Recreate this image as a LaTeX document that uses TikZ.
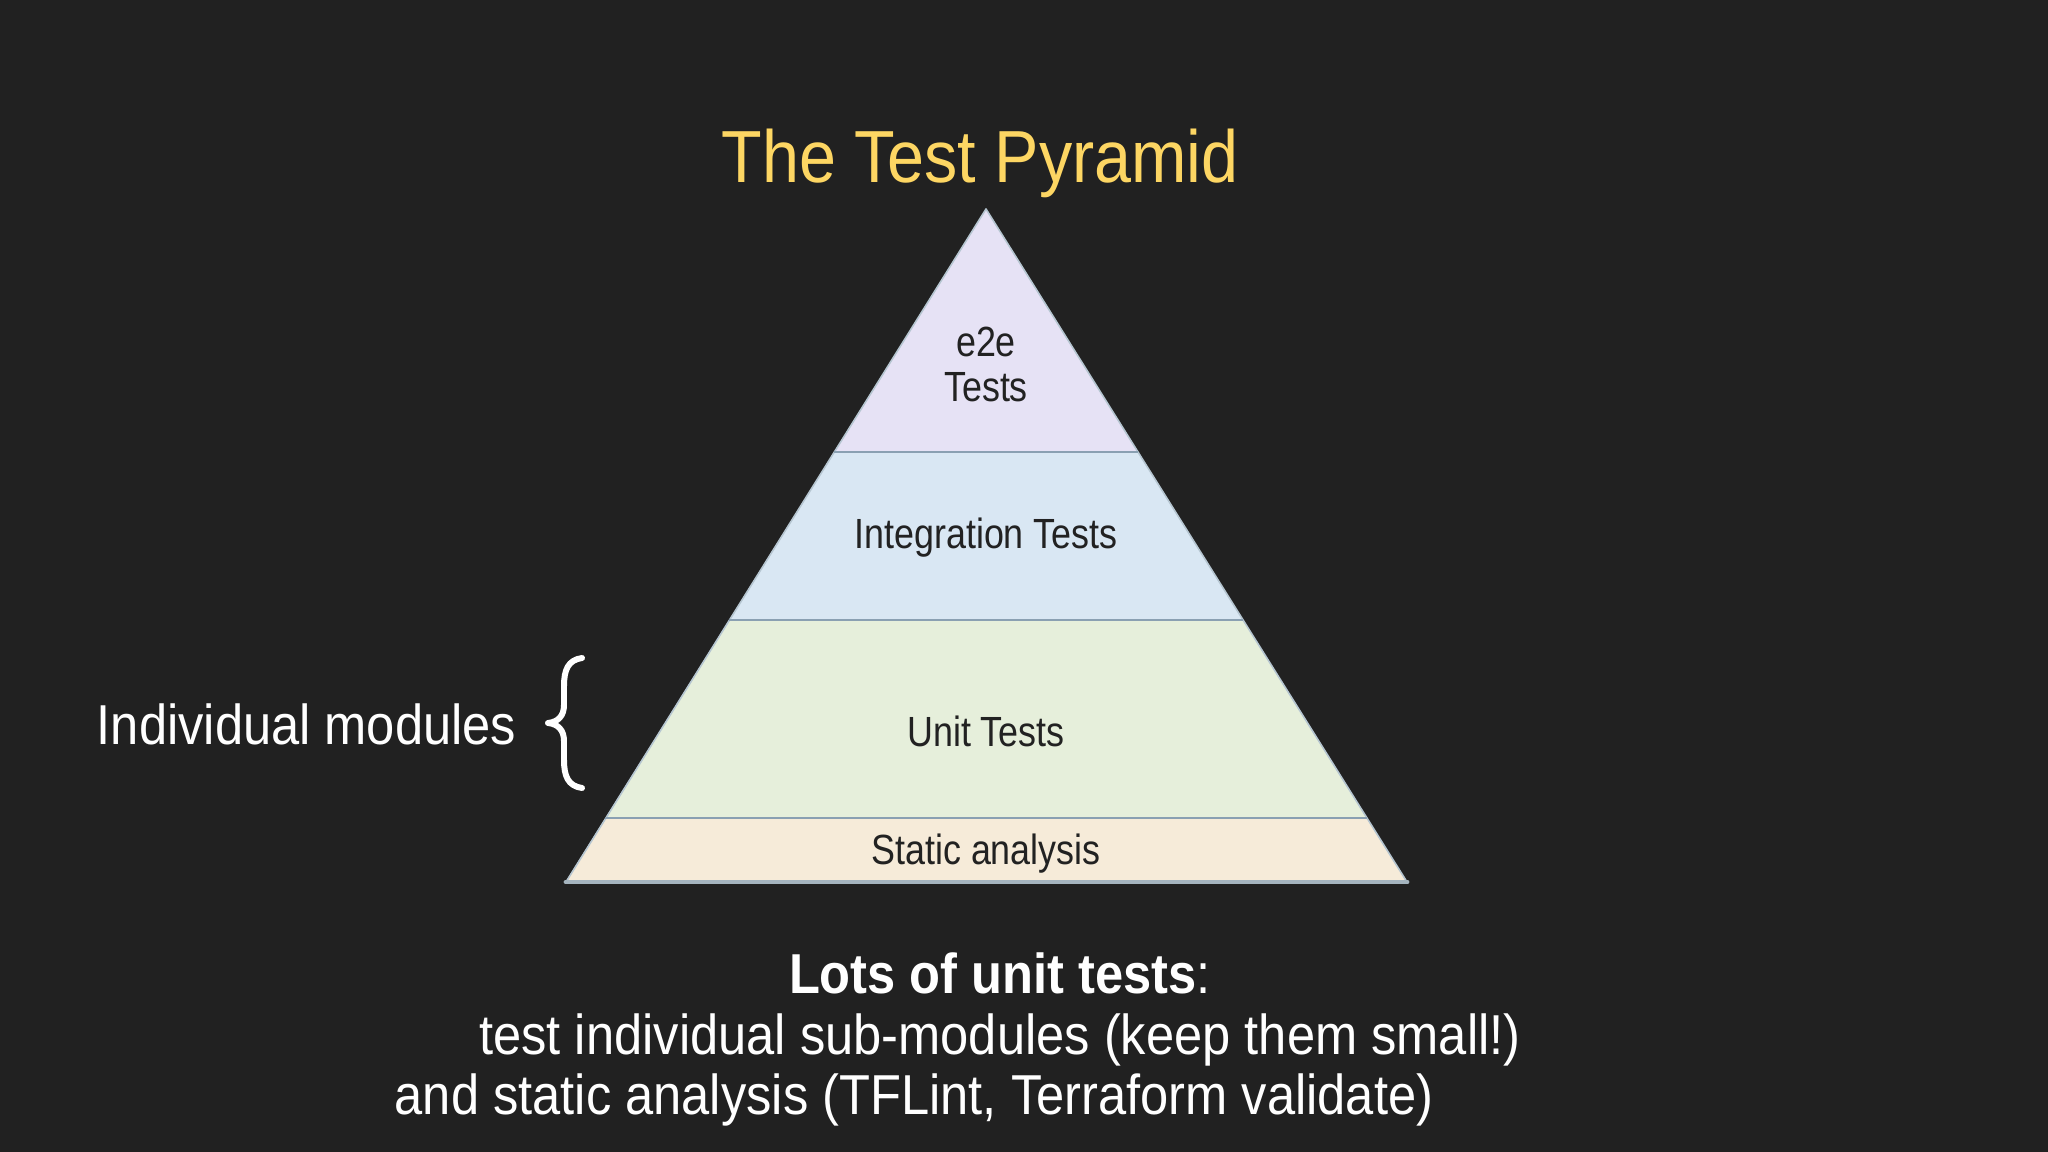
\documentclass[tikz,border=0pt]{standalone}
\usepackage{fontspec}
\setmainfont{Liberation Sans}[FakeStretch=0.9]
\newfontfamily\pyrfont{Liberation Sans}[FakeStretch=0.85]
\usepackage{xcolor}
\usetikzlibrary{positioning,calc}
\definecolor{slidebg}{HTML}{212121}
\definecolor{titleyellow}{HTML}{FDD663}
\definecolor{layerE}{HTML}{E6E2F5}
\definecolor{layerI}{HTML}{D9E7F3}
\definecolor{layerU}{HTML}{E6EFDB}
\definecolor{layerS}{HTML}{F6EBD9}
\definecolor{divline}{HTML}{8AA0B2}
\definecolor{edgeline}{HTML}{B5C5D0}
\definecolor{baseedge}{HTML}{A5B4BE}
\definecolor{pyrtext}{HTML}{222222}

\begin{document}
\begin{tikzpicture}[x=0.01cm,y=-0.01cm,
    lbl/.style={font={\pyrfont\fontsize{12pt}{14pt}\selectfont},text=pyrtext,anchor=base,inner sep=0pt},
    slidetext/.style={font={\fontsize{16pt}{19pt}\selectfont},text=white,anchor=base,inner sep=0pt},
    divider/.style={divline,line width=0.6pt}]
  % 배경
  \fill[slidebg] (0,0) rectangle (2048,1152);
  \useasboundingbox (0,0) rectangle (2048,1152);
  % 제목
  \node[slidetext,text=titleyellow,font={\fontsize{21pt}{25pt}\selectfont}] (title) at (980,183) {The Test Pyramid};
  % 피라미드 층
  \foreach \ya/\yb/\c in {209/452/layerE,452/620/layerI,620/818/layerU,818/882/layerS}
    \fill[\c] ({986-0.625*(\ya-209)},\ya) -- ({986+0.625*(\ya-209)},\ya) -- ({986+0.625*(\yb-209)},\yb) -- ({986-0.625*(\yb-209)},\yb) -- cycle;
  \coordinate (apex) at (986,209);
  \coordinate (bl) at (566,882);
  \coordinate (br) at (1407,882);
  \draw[edgeline,line width=0.45pt,line join=round] (bl) -- (apex) -- (br);
  \foreach \y in {452,620,818}
    \draw[divider] ({986-0.625*(\y-209)},\y) -- ({986+0.625*(\y-209)},\y);
  \draw[baseedge,line width=1.4pt,line cap=round] (bl) -- (br);
  % 층 이름
  \node[lbl] (e2e) at (986,357) {e2e};
  \node[lbl] (e2etests) at (986,402) {Tests};
  \node[lbl] (integ) at (986,549) {Integration Tests};
  \node[lbl] (unit) at (986,746) {Unit Tests};
  \node[lbl] (static) at (986,864) {Static analysis};
  % 왼쪽 설명과 중괄호
  \node[slidetext,anchor=base east] (modules) at (517,744) {Individual modules};
  \draw[white,line width=1.7pt,line join=round,line cap=round] (582,658) .. controls (568,660) and (564,670) .. (564,686) -- (564,705)
    .. controls (564,716) and (558,722) .. (548,723) .. controls (558,724) and (564,730) .. (564,741)
    -- (564,760) .. controls (564,776) and (568,786) .. (582,788);
  % 아래 설명
  \node[slidetext] (lots) at (1000,993) {\textbf{Lots of unit tests}:};
  \node[slidetext] (subs) at (1000,1054) {test individual sub-modules (keep them small!)};
  \node[slidetext] (lint) at (914,1114) {and static analysis (TFLint, Terraform validate)};
\end{tikzpicture}
\end{document}
